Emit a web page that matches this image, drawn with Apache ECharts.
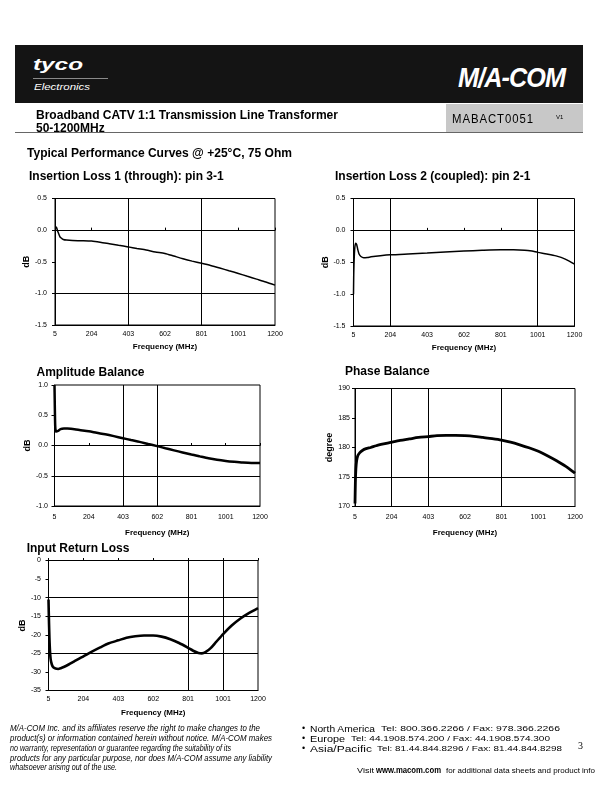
<!DOCTYPE html>
<html><head><meta charset="utf-8">
<script src="https://cdn.jsdelivr.net/npm/echarts@6/dist/echarts.min.js"></script>
<style>
html,body{margin:0;padding:0;background:#fff;}
#page{position:relative;width:612px;height:792px;overflow:hidden;font-family:"Liberation Sans",Arial,sans-serif;color:#000;}
#chart{position:absolute;left:0;top:0;width:612px;height:792px;}
.t{position:absolute;white-space:nowrap;line-height:1;transform-origin:left top;}
.fit{}
</style></head><body>
<div id="page">
<div id="chart"></div>
<div style="position:absolute;left:15px;top:45px;width:568px;height:58px;background:#141414;"></div>
<div class="t fit" data-w="50" style="left:33px;top:57px;font-size:16px;font-weight:bold;font-style:italic;color:#fff;">tyco</div>
<div style="position:absolute;left:33px;top:78px;width:75px;height:1px;background:#8a8a8a;"></div>
<div class="t fit" data-w="56" style="left:34px;top:81.5px;font-size:9.5px;font-style:italic;color:#fff;">Electronics</div>
<div class="t fit" data-w="107" style="left:458px;top:65px;font-size:27px;font-weight:bold;font-style:italic;color:#fff;letter-spacing:-1px;">M/A-COM</div>
<div class="t fit" data-w="302" style="left:36px;top:109px;font-size:12px;font-weight:bold;">Broadband CATV 1:1 Transmission Line Transformer</div>
<div class="t" style="left:36px;top:122px;font-size:12px;font-weight:bold;">50-1200MHz</div>
<div style="position:absolute;left:446px;top:104px;width:137px;height:28px;background:#c8c8c8;"></div>
<div class="t fit" data-w="82" style="left:452px;top:113px;font-size:12px;letter-spacing:1px;">MABACT0051</div>
<div class="t" style="left:556px;top:114px;font-size:6px;">V1</div>
<div style="position:absolute;left:15px;top:132px;width:568px;height:1px;background:#666;"></div>
<div class="t fit" data-w="265" style="left:27px;top:147px;font-size:12px;font-weight:bold;">Typical Performance Curves @ +25°C, 75 Ohm</div>

<div class="t fit" data-w="250" style="left:10px;top:724px;font-size:9px;font-style:italic;">M/A-COM Inc. and its affiliates reserve the right to make changes to the</div>
<div class="t fit" data-w="262" style="left:10px;top:734px;font-size:9px;font-style:italic;">product(s) or information contained herein without notice. M/A-COM makes</div>
<div class="t fit" data-w="221" style="left:10px;top:743.5px;font-size:9px;font-style:italic;">no warranty, representation or guarantee regarding the suitability of its</div>
<div class="t fit" data-w="262" style="left:10px;top:753.5px;font-size:9px;font-style:italic;">products for any particular purpose, nor does M/A-COM assume any liability</div>
<div class="t fit" data-w="107" style="left:10px;top:763px;font-size:9px;font-style:italic;">whatsoever arising out of the use.</div>

<div class="t" style="left:302px;top:724px;font-size:9px;">•</div>
<div class="t fit" data-w="65" style="left:310px;top:723.5px;font-size:9.5px;">North America</div>
<div class="t fit" data-w="179" style="left:381px;top:725px;font-size:7px;">Tel: 800.366.2266 / Fax: 978.366.2266</div>
<div class="t" style="left:302px;top:734px;font-size:9px;">•</div>
<div class="t fit" data-w="35" style="left:310px;top:733.5px;font-size:9.5px;">Europe</div>
<div class="t fit" data-w="199" style="left:351px;top:735px;font-size:7px;">Tel: 44.1908.574.200 / Fax: 44.1908.574.300</div>
<div class="t" style="left:302px;top:744px;font-size:9px;">•</div>
<div class="t fit" data-w="62" style="left:310px;top:743.5px;font-size:9.5px;">Asia/Pacific</div>
<div class="t fit" data-w="185" style="left:377px;top:745px;font-size:7px;">Tel: 81.44.844.8296 / Fax: 81.44.844.8298</div>
<div class="t" style="left:578px;top:741px;font-size:10px;font-family:'Liberation Serif',serif;">3</div>
<div class="t fit" data-w="17" style="left:357px;top:766.5px;font-size:7.5px;">Visit</div>
<div class="t fit" data-w="65" style="left:376px;top:766px;font-size:8.5px;font-weight:bold;">www.macom.com</div>
<div class="t fit" data-w="149" style="left:446px;top:766.5px;font-size:7.5px;">for additional data sheets and product info</div>
</div>
<script>
// ---------- data ----------
const tickLabels = ['5', '204', '403', '602', '801', '1001', '1200'];
const freqStart = 5;
const freqEnd = 1200;

const il1Freq = [5, 10, 14, 20, 32, 41, 50, 68, 100, 150, 204, 250, 300, 350, 403, 450, 500, 550, 602, 650, 700, 750, 801, 850, 900, 950, 1001, 1050, 1100, 1150, 1200];
const il1Val  = [0.05, 0.05, 0.035, -0.02, -0.105, -0.13, -0.147, -0.158, -0.165, -0.167, -0.172, -0.19, -0.215, -0.24, -0.265, -0.29, -0.315, -0.345, -0.37, -0.41, -0.452, -0.49, -0.525, -0.56, -0.6, -0.642, -0.685, -0.73, -0.775, -0.82, -0.87];

const il2Freq = [5, 6, 8, 12, 17, 22, 28, 35, 45, 60, 80, 100, 150, 204, 300, 403, 500, 602, 700, 801, 870, 930, 970, 1001, 1050, 1100, 1150, 1200];
const il2Val  = [-1.0, -0.75, -0.5, -0.27, -0.2, -0.22, -0.3, -0.37, -0.41, -0.43, -0.425, -0.415, -0.398, -0.384, -0.37, -0.356, -0.34, -0.325, -0.313, -0.305, -0.305, -0.31, -0.325, -0.345, -0.37, -0.4, -0.45, -0.53];

const ampFreq = [5, 6, 8, 10, 15, 25, 40, 60, 80, 100, 150, 204, 250, 300, 350, 403, 450, 500, 550, 602, 650, 700, 750, 801, 850, 900, 950, 1001, 1050, 1100, 1150, 1200];
const ampVal  = [1.0, 0.8, 0.45, 0.28, 0.23, 0.24, 0.27, 0.28, 0.28, 0.275, 0.255, 0.235, 0.21, 0.185, 0.155, 0.12, 0.09, 0.06, 0.025, -0.01, -0.045, -0.08, -0.115, -0.15, -0.18, -0.21, -0.235, -0.255, -0.27, -0.283, -0.29, -0.29];

const phFreq = [5, 7, 10, 14, 20, 30, 45, 65, 90, 120, 160, 204, 250, 300, 350, 403, 450, 500, 550, 602, 650, 700, 750, 801, 850, 900, 950, 1001, 1050, 1100, 1150, 1200];
const phVal  = [170.5, 174, 176.5, 177.8, 178.6, 179.1, 179.5, 179.8, 180.0, 180.3, 180.6, 180.9, 181.2, 181.45, 181.7, 181.85, 182.0, 182.05, 182.05, 182.0, 181.9, 181.7, 181.5, 181.25, 180.9, 180.45, 179.95, 179.35, 178.6, 177.75, 176.8, 175.65];

const rlFreq = [5, 8, 12, 17, 24, 33, 45, 60, 75, 95, 120, 150, 180, 204, 250, 300, 350, 403, 450, 500, 550, 602, 650, 700, 750, 801, 830, 860, 880, 900, 930, 960, 1001, 1050, 1100, 1150, 1200];
const rlVal  = [-10.5, -17, -23, -26.5, -28, -28.8, -29.1, -29.2, -29.0, -28.6, -28.0, -27.2, -26.4, -25.8, -24.6, -23.4, -22.3, -21.5, -20.8, -20.4, -20.2, -20.2, -20.5, -21.2, -22.2, -23.5, -24.3, -24.9, -25.0, -24.7, -23.6, -22.0, -19.8, -17.5, -15.6, -14.1, -12.8];

// ---------- helpers ----------
const SPAN = freqEnd - freqStart;
const STEP = SPAN / 6;
const HID = 'rgba(0,0,0,0)';
const FONT = 'Liberation Sans';

const titles = [], grids = [], xAxes = [], yAxes = [], series = [];

function addChart(c) {
  const gi = grids.length;
  grids.push({left: c.left, top: c.top, width: c.width, height: c.height, show: true,
    borderColor: '#000', borderWidth: 1, backgroundColor: 'transparent'});
  titles.push({text: c.title, left: c.titleLeft, top: c.titleTop, padding: 0,
    textStyle: {fontSize: 12, fontWeight: 'bold', color: '#000', fontFamily: FONT}});
  xAxes.push({
    gridIndex: gi, type: 'value', min: 0, max: SPAN, interval: STEP, position: 'bottom',
    axisLine: {show: true, onZero: false, lineStyle: {color: '#000', width: 1}},
    axisTick: {show: false},
    axisLabel: {show: true, margin: c.xLabelMargin, fontSize: 7, color: '#000', fontFamily: FONT,
      formatter: v => tickLabels[Math.round(v / STEP)]},
    splitLine: {show: true, lineStyle: {color: c.vLines.map(s => s ? '#000' : HID), width: 1}},
    name: 'Frequency (MHz)', nameLocation: 'middle', nameGap: c.xNameGap,
    nameTextStyle: {fontSize: 8, fontWeight: 'bold', color: '#000', fontFamily: FONT}
  });
  xAxes.push({
    gridIndex: gi, type: 'value', min: 0, max: SPAN, interval: STEP, position: 'top', show: c.zeroAxis,
    axisLine: {show: true, onZero: true, lineStyle: {color: '#000', width: 1}},
    axisTick: {show: true, length: 2.5, inside: false, lineStyle: {color: '#000', width: 1}},
    axisLabel: {show: false}, splitLine: {show: false}
  });
  yAxes.push({
    gridIndex: gi, type: 'value', min: c.ymin, max: c.ymax, interval: c.yint, position: 'left',
    axisLine: {show: true, onZero: false, lineStyle: {color: '#000', width: 1}},
    axisTick: {show: true, length: 3, inside: false, lineStyle: {color: '#000', width: 1}},
    axisLabel: {margin: c.yLabelMargin, fontSize: 7, color: '#000', fontFamily: FONT,
      formatter: v => v.toFixed(c.dec)},
    splitLine: {show: true, lineStyle: {color: c.hLines.map(s => s ? '#000' : HID), width: 1}},
    name: c.yName, nameLocation: 'middle', nameRotate: 90, nameGap: c.yNameGap,
    nameTextStyle: {fontSize: 9, fontWeight: 'bold', color: '#000', fontFamily: FONT}
  });
  series.push({
    type: 'line', xAxisIndex: 2 * gi, yAxisIndex: gi,
    data: c.freq.map((f, i) => [f - freqStart, c.vals[i]]),
    symbol: 'none', showSymbol: false, smooth: 0.25, clip: true, silent: true,
    lineStyle: {color: '#000', width: c.lw}, z: 5
  });
}

addChart({title: 'Insertion Loss 1 (through): pin 3-1', titleLeft: 29, titleTop: 170.5,
  left: 55, top: 198.5, width: 220, height: 126.5, ymin: -1.5, ymax: 0.5, yint: 0.5, dec: 1,
  vLines: [0,0,1,0,1,0,0], hLines: [0,1,0,1,0], zeroAxis: true, yName: 'dB',
  xLabelMargin: 5.5, xNameGap: 17.5, yLabelMargin: 8, yNameGap: 19,
  freq: il1Freq, vals: il1Val, lw: 1.5});

addChart({title: 'Insertion Loss 2 (coupled): pin 2-1', titleLeft: 335, titleTop: 170.5,
  left: 353.5, top: 198.5, width: 221, height: 127.5, ymin: -1.5, ymax: 0.5, yint: 0.5, dec: 1,
  vLines: [0,1,0,0,0,1,0], hLines: [0,0,0,1,0], zeroAxis: true, yName: 'dB',
  xLabelMargin: 5.5, xNameGap: 17.5, yLabelMargin: 8, yNameGap: 19,
  freq: il2Freq, vals: il2Val, lw: 1.5});

addChart({title: 'Amplitude Balance', titleLeft: 36.5, titleTop: 366.3,
  left: 54.5, top: 385, width: 205.5, height: 121, ymin: -1.0, ymax: 1.0, yint: 0.5, dec: 1,
  vLines: [0,0,1,1,0,0,0], hLines: [0,1,1,0,0], zeroAxis: true, yName: 'dB',
  xLabelMargin: 7.5, xNameGap: 23, yLabelMargin: 6.5, yNameGap: 18.5,
  freq: ampFreq, vals: ampVal, lw: 2.5});

addChart({title: 'Phase Balance', titleLeft: 345, titleTop: 366,
  left: 355, top: 388.5, width: 220, height: 118, ymin: 170, ymax: 190, yint: 5, dec: 0,
  vLines: [0,1,1,0,1,0,0], hLines: [0,1,0,0,0], zeroAxis: false, yName: 'degree',
  xLabelMargin: 7, xNameGap: 22.5, yLabelMargin: 5, yNameGap: 21,
  freq: phFreq, vals: phVal, lw: 2.8});

addChart({title: 'Input Return Loss', titleLeft: 26.7, titleTop: 542.3,
  left: 48.5, top: 560.5, width: 209.5, height: 130, ymin: -35, ymax: 0, yint: 5, dec: 0,
  vLines: [0,0,0,0,1,1,0], hLines: [0,0,1,0,1,1,0,0], zeroAxis: true, yName: 'dB',
  xLabelMargin: 5, xNameGap: 18.5, yLabelMargin: 7.5, yNameGap: 20.5,
  freq: rlFreq, vals: rlVal, lw: 2.6});

const chart = echarts.init(document.getElementById('chart'), null, {renderer: 'canvas'});
chart.setOption({
  animation: false,
  textStyle: {fontFamily: FONT},
  title: titles, grid: grids, xAxis: xAxes, yAxis: yAxes, series: series
});

// fit a few text lines to their measured widths in the reference
document.querySelectorAll('.fit').forEach(el => {
  const w = parseFloat(el.dataset.w);
  const r = el.getBoundingClientRect().width;
  if (r > 0) el.style.transform = 'scaleX(' + (w / r) + ')';
});
</script>
</body></html>
